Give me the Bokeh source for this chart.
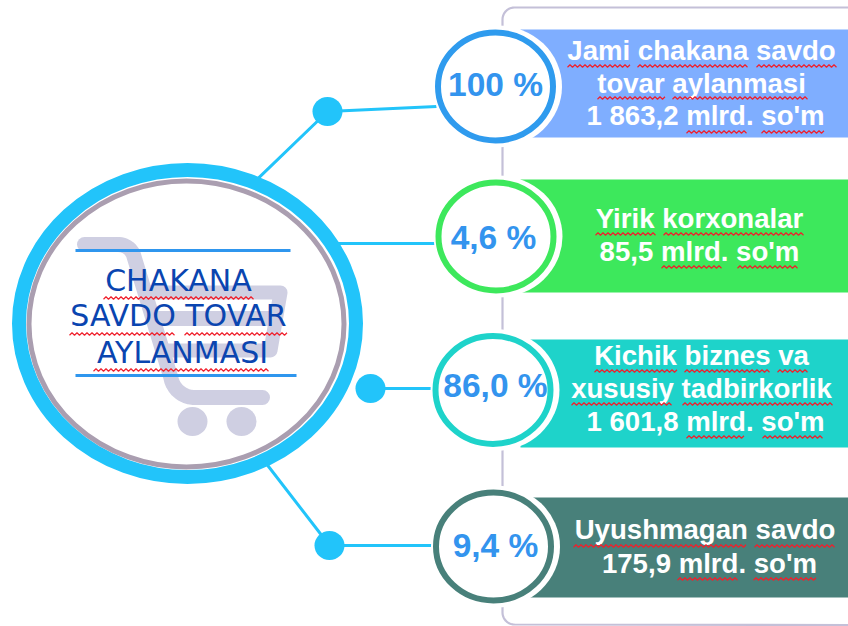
import numpy as np
from bokeh.plotting import figure
from bokeh.embed import file_html
from bokeh.resources import INLINE
from bokeh.core.properties import value

# ---- content
percents = ["100 %", "4,6 %", "86,0 %", "9,4 %"]
labels = [
    ["Jami chakana savdo", "tovar aylanmasi", "1 863,2 mlrd. so'm"],
    ["Yirik korxonalar", "85,5 mlrd. so'm"],
    ["Kichik biznes va", "xususiy tadbirkorlik", "1 601,8 mlrd. so'm"],
    ["Uyushmagan savdo", "175,9 mlrd. so'm"],
]
centre_title = ["CHAKANA", "SAVDO TOVAR", "AYLANMASI"]

# ---- colours
ring_colors = ["#2F9BEE", "#3DE85C", "#1ED3CA", "#48807A"]
bar_colors = ["#7FAEFF", "#3DE85C", "#1ED3CA", "#48807A"]
CYAN, GREY, CART, FRAME, PCT = "#22C4FA", "#AA9EB0", "#CFCFE2", "#C4C0D8", "#3394EE"

# ---- layout (page pixels of the reference)
bar_left = [520, 520, 520, 525]
bar_top = [29, 179, 339, 497]
bar_bottom = [137, 292, 447, 597]
badge_x = [495, 495.5, 492.5, 493]
badge_y = [86, 236, 389.5, 546]
pct_x = [495, 493, 495, 495]
pct_base = [97, 250, 398, 558]
label_x = [[701, 701, 705], [699, 699], [701, 701, 705], [704.5, 709]]
label_base = [[61, 94, 126], [229, 262], [366, 399, 432], [540, 574]]
title_x = [178, 178, 182]
title_base = [292, 327, 364]
BASE_SHIFT = 0.4   # em: the text glyph sits this far below the asked baseline

p = figure(width=848, height=626, x_range=(0, 848), y_range=(626, 0),
           output_backend="svg", toolbar_location=None,
           background_fill_color="white", border_fill_color="white",
           min_border=0, outline_line_color=None)
p.axis.visible = False
p.grid.visible = False

# frame with rounded corners
def corner(cx, cy, a0, a1, r=12):
    t = np.radians(np.linspace(a0, a1, 12))
    return cx + r*np.cos(t), cy + r*np.sin(t)
cx1, cy1 = corner(514, 19, 270, 180)
cx2, cy2 = corner(514, 612, 180, 90)
fx = np.concatenate([[848], cx1, cx2, [848]])
fy = np.concatenate([[7], cy1, cy2, [624.5]])
p.line(fx, fy, line_color=FRAME, line_width=2.2)

# bars
p.quad(left=bar_left, right=[848]*4, top=bar_top, bottom=bar_bottom,
       fill_color=bar_colors, line_color=None)

# connectors
cx = [[245, 327, 436], [318, 436], [358, 433], [258, 329, 433]]
cy = [[190, 111, 106], [243, 243], [388, 388], [453, 545, 545]]
p.multi_line(cx, cy, line_color=CYAN, line_width=3)
dot_x = [327, 370, 329]
dot_y = [111, 388, 545]
p.ellipse(dot_x, dot_y, width=30, height=29, fill_color=CYAN, line_color=None)

# central circle
p.ellipse([187], [323], width=337, height=307, fill_color="white",
          line_color=CYAN, line_width=14)
p.ellipse([186], [323.5], width=315, height=286, fill_color="white",
          line_color=GREY, line_width=5)

# cart
p.line([84, 118], [244, 244], line_color=CART, line_width=15, line_cap="round")
a1 = np.radians(np.linspace(-90, -20, 10))
a2 = np.radians(np.linspace(170, 95, 10))
hx = np.concatenate([118 + 16*np.cos(a1), 194 + 24*np.cos(a2), [262]])
hy = np.concatenate([260 + 16*np.sin(a1), 373 + 24*np.sin(a2), [397]])
p.line(hx, hy, line_color=CART, line_width=15, line_join="round", line_cap="round")
p.line([143, 280, 270, 160], [292, 292, 350, 350], line_color=CART, line_width=14, line_join="round")
p.line([150, 274], [318, 318], line_color=CART, line_width=15)
p.ellipse([192, 241], [421, 421], width=30, height=29, fill_color=CART, line_color=None)

# blue rules in the central circle
p.multi_line([[75, 290], [75, 296]], [[250, 250], [375, 375]], line_color="#2F96EE", line_width=3)

# badges
p.ellipse(np.array(badge_x) + 2, badge_y, width=129, height=122, fill_color="white", line_color=None)
p.ellipse(badge_x, badge_y, width=115, height=108, fill_color="white",
          line_color=ring_colors, line_width=6)

# texts
def base(ys, size):
    return [y - BASE_SHIFT*size for y in ys]

p.text(pct_x, base(pct_base, 33.5), text=percents, text_font=value("Liberation Sans"), text_font_style="bold",
       text_font_size="33.5px", text_color=PCT, text_align="center", text_baseline="alphabetic")

flat_text = [s for g in labels for s in g]
flat_x = [v for g in label_x for v in g]
flat_y = [v for g in label_base for v in g]
p.text(flat_x, base(flat_y, 27.6), text=flat_text, text_font=value("Liberation Sans"), text_font_style="bold",
       text_font_size="27.6px", text_color="white", text_align="center", text_baseline="alphabetic")

p.text(title_x, base(title_base, 30), text=centre_title, text_font=value("DejaVu Sans"),
       text_font_size="30px", text_color="#0A45B0", text_align="center", text_baseline="alphabetic")

# spell-check squiggles: [left, right, y]
sq = [
    (567, 630, 65), (637, 748, 65), (756, 836, 65),
    (597, 665, 97), (672, 807, 97),
    (686, 746, 131), (761, 824, 131),
    (595, 655, 233), (663, 803, 233),
    (661, 721, 266), (737, 798, 266),
    (594, 677, 370), (684, 770, 370), (777, 808, 370),
    (571, 673, 403), (682, 832, 403),
    (686, 745, 436), (762, 824, 436),
    (573, 747, 545), (754, 836, 545),
    (677, 737, 578), (753, 816, 578),
    (103, 253, 297), (69, 174, 333), (184, 288, 333), (93, 269, 369),
]
sx, sy = [], []
for x0, x1, y in sq:
    xs = np.arange(x0, x1 + 0.1, 2.5)
    ys = y + 0.5 + np.where(np.arange(len(xs)) % 2 == 0, 1.2, -1.2)
    sx.append(xs.tolist()); sy.append(ys.tolist())
p.multi_line(sx, sy, line_color="#F0202C", line_width=1.2)

open("out.html", "w").write(file_html(p, INLINE))
